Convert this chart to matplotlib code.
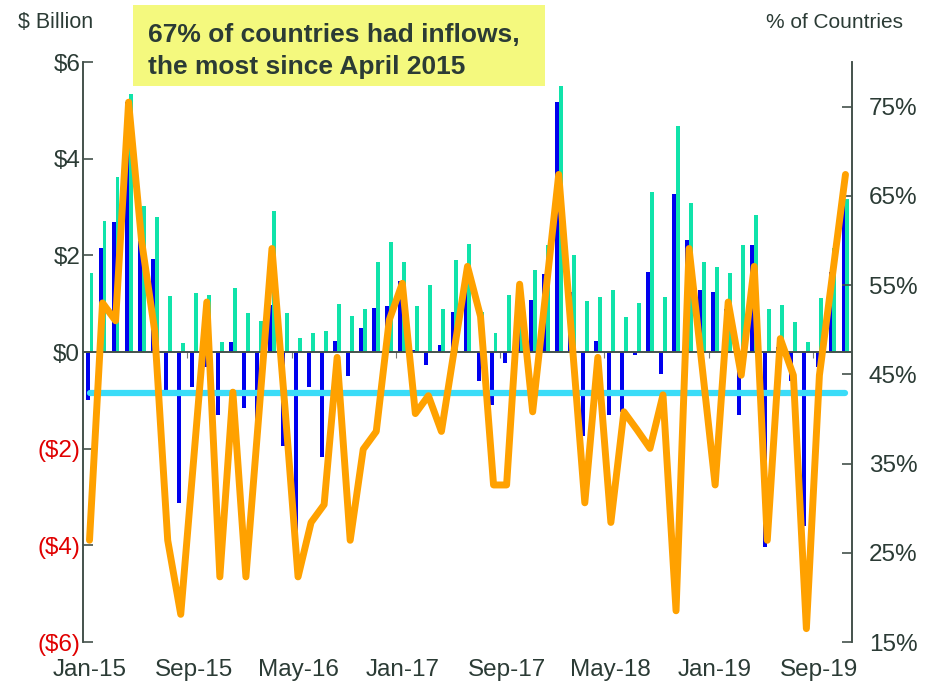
#!/usr/bin/env python3
"""Monthly fund flows (bars, $bn) and share of countries with inflows (line, %)."""

import matplotlib

matplotlib.use("Agg")
import matplotlib.pyplot as plt
from matplotlib.patches import Rectangle

plt.rcParams["font.family"] = ["Liberation Sans", "DejaVu Sans"]

# Jan-15 .. Nov-19, one entry per month
FLOWS_A = [
    -1.00, 2.15, 2.70, 5.18, 2.30, 1.93, -0.81, -3.13, -0.73, -0.30,
    -1.31, 0.21, -1.15, -1.50, 0.98, -1.94, -4.40, -0.72, -2.17, 0.22,
    -0.50, 0.50, 0.91, 0.95, 1.46, 0.05, -0.27, 0.15, 0.83, 1.28,
    -0.59, -1.09, -0.22, 0.60, 1.08, 1.61, 5.18, 1.24, -1.74, 0.22,
    -1.31, -1.25, -0.07, 1.66, -0.46, 3.27, 2.32, 1.29, 1.24, 0.90,
    -1.30, 2.22, -4.04, 0.10, -0.60, -3.59, -0.32, 1.66, 3.11,
]
FLOWS_B = [
    1.63, 2.72, 3.63, 5.33, 3.02, 2.79, 1.15, 0.19, 1.23, 1.18,
    0.20, 1.32, 0.80, 0.65, 2.92, 0.80, 0.30, 0.39, 0.44, 1.00,
    0.74, 0.89, 1.87, 2.28, 1.87, 0.96, 1.39, 0.90, 1.90, 2.24,
    0.83, 0.40, 1.18, 1.20, 1.70, 2.21, 5.51, 2.00, 1.06, 1.13,
    1.29, 0.72, 1.02, 3.32, 1.14, 4.67, 3.09, 1.87, 1.75, 1.64,
    2.21, 2.84, 0.89, 0.98, 0.63, 0.20, 1.11, 2.15, 3.17,
]
PCT_INFLOWS = [
    26.4, 53.0, 51.0, 75.5, 59.9, 49.9, 26.4, 18.1, 35.6, 53.1,
    22.3, 43.0, 22.3, 40.6, 59.1, 41.2, 22.3, 28.4, 30.4, 46.9,
    26.4, 36.6, 38.6, 51.1, 55.2, 40.6, 42.6, 38.6, 47.9, 57.1,
    51.5, 32.6, 32.6, 55.1, 40.8, 54.1, 67.4, 49.1, 30.6, 46.9,
    28.4, 40.8, 38.8, 36.7, 42.7, 18.5, 59.1, 45.9, 32.6, 53.1,
    44.9, 57.1, 26.4, 49.0, 44.9, 16.5, 44.9, 56.1, 67.4,
]
AVG_PCT = 42.9

TICK_LABELS = ["Jan-15", "Sep-15", "May-16", "Jan-17", "Sep-17", "May-18", "Jan-19", "Sep-19"]
LEFT_TICKS = [-6, -4, -2, 0, 2, 4, 6]
LEFT_LABELS = ["($6)", "($4)", "($2)", "$0", "$2", "$4", "$6"]
RIGHT_TICKS = [15, 25, 35, 45, 55, 65, 75]

DARK = "#2b3b35"
AXIS = "#44524c"


def main() -> None:
    n = len(FLOWS_A)
    x = list(range(n))
    width = 0.3

    fig = plt.figure(figsize=(9.43, 6.84), dpi=100)
    ax = fig.add_axes([0.088, 0.0614, 0.8155, 0.8479])
    ax2 = ax.twinx()

    ax.bar([i - width / 2 for i in x], FLOWS_A, width=width, color="#0000ee", zorder=2)
    ax.bar([i + width / 2 for i in x], FLOWS_B, width=width, color="#10e3aa", zorder=2)
    ax.axhline(0, color=AXIS, lw=1.4, zorder=3)

    ax2.plot([x[0], x[-1]], [AVG_PCT, AVG_PCT], color="#3adcf8", lw=4.5,
             solid_capstyle="round", zorder=3)
    ax2.plot(x, PCT_INFLOWS, color="#ffa100", lw=5, solid_joinstyle="round",
             solid_capstyle="round", zorder=4)

    ax.set_xlim(-0.5, n - 0.5)
    ax.set_ylim(-6, 6)
    ax2.set_ylim(15, 80)

    ax.set_xticks(x[::8], TICK_LABELS)
    ax.tick_params(axis="x", length=0, pad=12, labelsize=17.5, labelcolor=DARK)
    sec = ax.secondary_xaxis(0.5)
    sec.set_xticks([i + 7.5 for i in x[:-8:8]])
    sec.tick_params(axis="x", direction="in", length=4, color="#777777", labelbottom=False,
                    labeltop=False)
    sec.spines["bottom"].set_visible(False)
    sec.spines["top"].set_visible(False)

    ax.set_yticks(LEFT_TICKS, LEFT_LABELS)
    ax.tick_params(axis="y", direction="in", length=7, width=1.2, color=AXIS, labelsize=17.5, pad=2)
    for label, value in zip(ax.get_yticklabels(), LEFT_TICKS):
        label.set_color("#e00000" if value < 0 else DARK)

    ax2.set_yticks(RIGHT_TICKS, [f"{v}%" for v in RIGHT_TICKS])
    ax2.tick_params(axis="y", direction="in", length=7, width=1.2, color=AXIS, labelsize=17.5,
                    labelcolor=DARK, pad=12)

    for a in (ax, ax2):
        a.spines["top"].set_visible(False)
        a.spines["bottom"].set_visible(False)
        a.spines["left"].set_color(AXIS)
        a.spines["right"].set_color(AXIS)
        a.spines["left"].set_linewidth(1.2)
        a.spines["right"].set_linewidth(1.2)
    ax.set_zorder(1)
    ax2.set_zorder(2)

    fig.text(18 / 943, 1 - 22 / 684, "$ Billion", fontsize=15.5, color=DARK, va="center")
    fig.text(903 / 943, 1 - 22 / 684, "% of Countries", fontsize=15, color=DARK,
             va="center", ha="right")

    fig.patches.append(Rectangle((133 / 943, 1 - 86 / 684), 412 / 943, 81 / 684,
                                 transform=fig.transFigure, facecolor="#f4f97e",
                                 edgecolor="none", zorder=5))
    fig.text(148 / 943, 1 - 51 / 684, "67% of countries had inflows,\nthe most since April 2015",
             fontsize=19, fontweight="bold", color=DARK, va="center", ha="left",
             linespacing=1.45, zorder=6)

    fig.savefig("out.png", dpi=100)
    plt.close(fig)


if __name__ == "__main__":
    main()
